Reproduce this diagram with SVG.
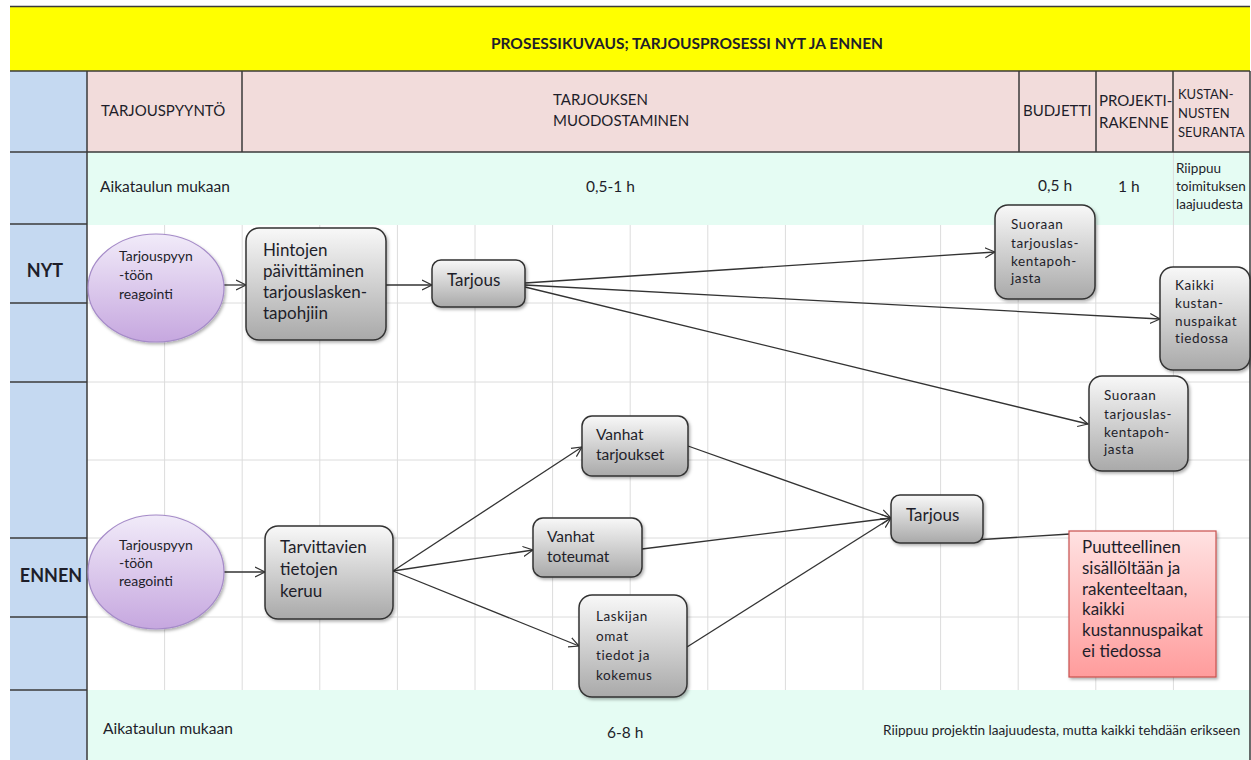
<svg xmlns="http://www.w3.org/2000/svg" width="1251" height="760" viewBox="0 0 1251 760">
  <defs>
    <linearGradient id="gGray" x1="0" y1="0" x2="0" y2="1">
      <stop offset="0" stop-color="#F8F8F8"/>
      <stop offset="1" stop-color="#A9A9A9"/>
    </linearGradient>
    <linearGradient id="gPurple" x1="0" y1="0" x2="0" y2="1">
      <stop offset="0" stop-color="#F1EBF9"/>
      <stop offset="1" stop-color="#C6A7DF"/>
    </linearGradient>
    <linearGradient id="gRed" x1="0" y1="0" x2="0" y2="1">
      <stop offset="0" stop-color="#FFE2E2"/>
      <stop offset="1" stop-color="#FF9C9C"/>
    </linearGradient>
    <filter id="shadow" x="-10%" y="-10%" width="130%" height="130%">
      <feDropShadow dx="1.5" dy="2" stdDeviation="1.5" flood-color="#000" flood-opacity="0.3"/>
    </filter>
    <marker id="arrow" markerUnits="userSpaceOnUse" markerWidth="12" markerHeight="12" refX="10" refY="5" orient="auto" viewBox="0 0 12 10">
      <path d="M0,0 L10,5 L0,10" fill="none" stroke="#333" stroke-width="1.2"/>
    </marker>
    <style>
      text { font-family: Lato, "Liberation Sans", sans-serif; fill: #1E1E2A; }
      .title { font-size: 15.5px; font-weight: bold; }
      .hdr { font-size: 15px; }
      .hdrs { font-size: 13px; }
      .lane { font-size: 18px; font-weight: bold; }
      .time { font-size: 15.5px; }
      .side { font-size: 13.5px; }
      .foot { font-size: 13.6px; }
      .grid line { stroke: #DCDCDC; stroke-width: 1; }
      .frame line { stroke: #3A3A3A; stroke-width: 1.5; }
      .box { fill: url(#gGray); stroke: #333; stroke-width: 1.5; filter: url(#shadow); }
      .oval { fill: url(#gPurple); stroke: #A58BC8; stroke-width: 1.2; filter: url(#shadow); }
      .note { fill: url(#gRed); stroke: #C9504E; stroke-width: 1.2; filter: url(#shadow); }
      .t14 { font-size: 14px; }
      .ts { font-size: 13.5px; letter-spacing: 0.6px; }
      .t15 { font-size: 15.5px; }
      .t17 { font-size: 17px; }
      .connectors line { stroke: #333; stroke-width: 1.3; fill: none; }
    </style>
  </defs>

  <rect width="1251" height="760" fill="#FFFFFF"/>

  <!-- background bands -->
  <rect x="10" y="7" width="1240" height="64" fill="#FFFF00"/>
  <rect x="10" y="71" width="77" height="689" fill="#C5D9F1"/>
  <rect x="87" y="71" width="1163" height="81" fill="#F2DCDB"/>
  <rect x="87" y="152" width="1163" height="73" fill="#E5FCF3"/>
  <rect x="87" y="690" width="1163" height="70" fill="#E5FCF3"/>

  <!-- grid -->
  <g class="grid">
    <line x1="164.6" y1="225" x2="164.6" y2="690"/>
    <line x1="242.2" y1="225" x2="242.2" y2="690"/>
    <line x1="319.8" y1="225" x2="319.8" y2="690"/>
    <line x1="397.4" y1="225" x2="397.4" y2="690"/>
    <line x1="475" y1="225" x2="475" y2="690"/>
    <line x1="552.6" y1="225" x2="552.6" y2="690"/>
    <line x1="630.2" y1="225" x2="630.2" y2="690"/>
    <line x1="707.8" y1="225" x2="707.8" y2="690"/>
    <line x1="785.4" y1="225" x2="785.4" y2="690"/>
    <line x1="863" y1="225" x2="863" y2="690"/>
    <line x1="940.6" y1="225" x2="940.6" y2="690"/>
    <line x1="1018.2" y1="225" x2="1018.2" y2="690"/>
    <line x1="1095.8" y1="225" x2="1095.8" y2="690"/>
    <line x1="1173.4" y1="152" x2="1173.4" y2="690"/>
    <line x1="87" y1="303" x2="1250" y2="303"/>
    <line x1="87" y1="382" x2="1250" y2="382"/>
    <line x1="87" y1="460" x2="1250" y2="460"/>
    <line x1="87" y1="538" x2="1250" y2="538"/>
    <line x1="87" y1="617" x2="1250" y2="617"/>
  </g>

  <!-- frame lines -->
  <g class="frame">
    <line x1="10" y1="6.5" x2="1250" y2="6.5" stroke="#000"/>
    <line x1="10" y1="71" x2="1250" y2="71"/>
    <line x1="87" y1="152" x2="1250" y2="152"/>
    <line x1="87" y1="71" x2="87" y2="760"/>
    <line x1="242" y1="71" x2="242" y2="152"/>
    <line x1="1019" y1="71" x2="1019" y2="152"/>
    <line x1="1096" y1="71" x2="1096" y2="152"/>
    <line x1="1173" y1="71" x2="1173" y2="152"/>
    <line x1="10" y1="152" x2="87" y2="152"/>
    <line x1="10" y1="224" x2="87" y2="224"/>
    <line x1="10" y1="303" x2="87" y2="303"/>
    <line x1="10" y1="382" x2="87" y2="382"/>
    <line x1="10" y1="538" x2="87" y2="538"/>
    <line x1="10" y1="617" x2="87" y2="617"/>
    <line x1="10" y1="690" x2="87" y2="690"/>
    <line x1="1250" y1="71" x2="1250" y2="760" stroke="#8A8A8A"/>
  </g>

  <!-- title and column headers -->
  <text class="title" x="687" y="49" text-anchor="middle">PROSESSIKUVAUS; TARJOUSPROSESSI NYT JA ENNEN</text>
  <text class="hdr" x="101" y="116">TARJOUSPYYNTÖ</text>
  <text class="hdr" x="553" y="105">TARJOUKSEN</text>
  <text class="hdr" x="553" y="126">MUODOSTAMINEN</text>
  <text class="hdr" x="1023" y="116">BUDJETTI</text>
  <text class="hdr" x="1099" y="106">PROJEKTI-</text>
  <text class="hdr" x="1099" y="128">RAKENNE</text>
  <text class="hdrs" x="1178" y="99">KUSTAN-</text>
  <text class="hdrs" x="1178" y="118">NUSTEN</text>
  <text class="hdrs" x="1178" y="137">SEURANTA</text>

  <!-- timing rows -->
  <text class="time" x="100" y="192">Aikataulun mukaan</text>
  <text class="time" x="586" y="192">0,5-1 h</text>
  <text class="time" x="1038" y="191">0,5 h</text>
  <text class="time" x="1118" y="192">1 h</text>
  <text class="side" x="1176" y="173">Riippuu</text>
  <text class="side" x="1176" y="191">toimituksen</text>
  <text class="side" x="1176" y="209">laajuudesta</text>
  <text class="time" x="103" y="734">Aikataulun mukaan</text>
  <text class="time" x="607" y="738">6-8 h</text>
  <text class="foot" x="883" y="735">Riippuu projektin laajuudesta, mutta kaikki tehdään erikseen</text>

  <!-- lane labels -->
  <text class="lane" x="45" y="277" text-anchor="middle">NYT</text>
  <text class="lane" x="51" y="582" text-anchor="middle">ENNEN</text>

  <!-- connectors -->
  <g class="connectors">
    <line x1="224" y1="285" x2="246" y2="285" marker-end="url(#arrow)"/>
    <line x1="386" y1="285" x2="432" y2="285" marker-end="url(#arrow)"/>
    <line x1="525" y1="283" x2="995" y2="252" marker-end="url(#arrow)"/>
    <line x1="525" y1="285" x2="1160" y2="319" marker-end="url(#arrow)"/>
    <line x1="525" y1="287" x2="1088" y2="424" marker-end="url(#arrow)"/>
    <line x1="224" y1="572" x2="265" y2="572" marker-end="url(#arrow)"/>
    <line x1="393" y1="571" x2="582" y2="447" marker-end="url(#arrow)"/>
    <line x1="393" y1="571" x2="533" y2="550" marker-end="url(#arrow)"/>
    <line x1="393" y1="571" x2="579" y2="646" marker-end="url(#arrow)"/>
    <line x1="688" y1="446" x2="891" y2="518" marker-end="url(#arrow)"/>
    <line x1="642" y1="549" x2="891" y2="518" marker-end="url(#arrow)"/>
    <line x1="687" y1="647" x2="891" y2="518" marker-end="url(#arrow)"/>
    <line x1="943" y1="542" x2="1070" y2="534"/>
  </g>

  <!-- NYT lane nodes -->
  <g id="nyt-reagointi">
    <ellipse class="oval" cx="156" cy="288" rx="68" ry="54"/>
    <text class="t14" x="119" y="261">Tarjouspyyn</text>
    <text class="t14" x="119" y="280">-töön</text>
    <text class="t14" x="119" y="299">reagointi</text>
  </g>
  <g id="nyt-hintojen">
    <rect class="box" x="246" y="228" width="140" height="112" rx="13"/>
    <text class="t17" x="263" y="256">Hintojen</text>
    <text class="t17" x="263" y="277">päivittäminen</text>
    <text class="t17" x="263" y="298">tarjouslasken-</text>
    <text class="t17" x="263" y="319">tapohjiin</text>
  </g>
  <g id="nyt-tarjous">
    <rect class="box" x="432" y="260" width="93" height="47" rx="9"/>
    <text class="t17" x="447" y="286">Tarjous</text>
  </g>
  <g id="nyt-budjetti">
    <rect class="box" x="995" y="205" width="100" height="94" rx="13"/>
    <text class="ts" x="1011" y="229">Suoraan</text>
    <text class="ts" x="1011" y="248">tarjouslas-</text>
    <text class="ts" x="1011" y="266">kentapoh-</text>
    <text class="ts" x="1011" y="283">jasta</text>
  </g>
  <g id="nyt-kustannuspaikat">
    <rect class="box" x="1160" y="267" width="90" height="103" rx="13"/>
    <text class="ts" x="1175" y="290">Kaikki</text>
    <text class="ts" x="1175" y="308">kustan-</text>
    <text class="ts" x="1175" y="326">nuspaikat</text>
    <text class="ts" x="1175" y="343">tiedossa</text>
  </g>
  <g id="nyt-projektirakenne">
    <rect class="box" x="1089" y="376" width="99" height="95" rx="13"/>
    <text class="ts" x="1104" y="400">Suoraan</text>
    <text class="ts" x="1104" y="419">tarjouslas-</text>
    <text class="ts" x="1104" y="437">kentapoh-</text>
    <text class="ts" x="1104" y="454">jasta</text>
  </g>

  <!-- ENNEN lane nodes -->
  <g id="ennen-reagointi">
    <ellipse class="oval" cx="156" cy="572" rx="68" ry="57"/>
    <text class="t14" x="119" y="550">Tarjouspyyn</text>
    <text class="t14" x="119" y="568">-töön</text>
    <text class="t14" x="119" y="586">reagointi</text>
  </g>
  <g id="ennen-tietojen-keruu">
    <rect class="box" x="265" y="526" width="128" height="93" rx="13"/>
    <text class="t17" x="280" y="553">Tarvittavien</text>
    <text class="t17" x="280" y="575">tietojen</text>
    <text class="t17" x="280" y="597">keruu</text>
  </g>
  <g id="ennen-vanhat-tarjoukset">
    <rect class="box" x="582" y="416" width="106" height="60" rx="10"/>
    <text class="t15" x="596" y="440">Vanhat</text>
    <text class="t15" x="596" y="460">tarjoukset</text>
  </g>
  <g id="ennen-vanhat-toteumat">
    <rect class="box" x="533" y="518" width="109" height="59" rx="10"/>
    <text class="t15" x="547" y="542">Vanhat</text>
    <text class="t15" x="547" y="562">toteumat</text>
  </g>
  <g id="ennen-laskijan-tiedot">
    <rect class="box" x="579" y="595" width="108" height="102" rx="13"/>
    <text class="ts" x="596" y="621">Laskijan</text>
    <text class="ts" x="596" y="641">omat</text>
    <text class="ts" x="596" y="660">tiedot ja</text>
    <text class="ts" x="596" y="680">kokemus</text>
  </g>
  <g id="ennen-tarjous">
    <rect class="box" x="891" y="495" width="92" height="48" rx="9"/>
    <text class="t17" x="906" y="521">Tarjous</text>
  </g>
  <g id="ennen-puutteellinen">
    <rect class="note" x="1069" y="531" width="147" height="146"/>
    <text class="t17" x="1082" y="553">Puutteellinen</text>
    <text class="t17" x="1082" y="574">sisällöltään ja</text>
    <text class="t17" x="1082" y="595">rakenteeltaan,</text>
    <text class="t17" x="1082" y="615">kaikki</text>
    <text class="t17" x="1082" y="636">kustannuspaikat</text>
    <text class="t17" x="1082" y="657">ei tiedossa</text>
  </g>
</svg>
